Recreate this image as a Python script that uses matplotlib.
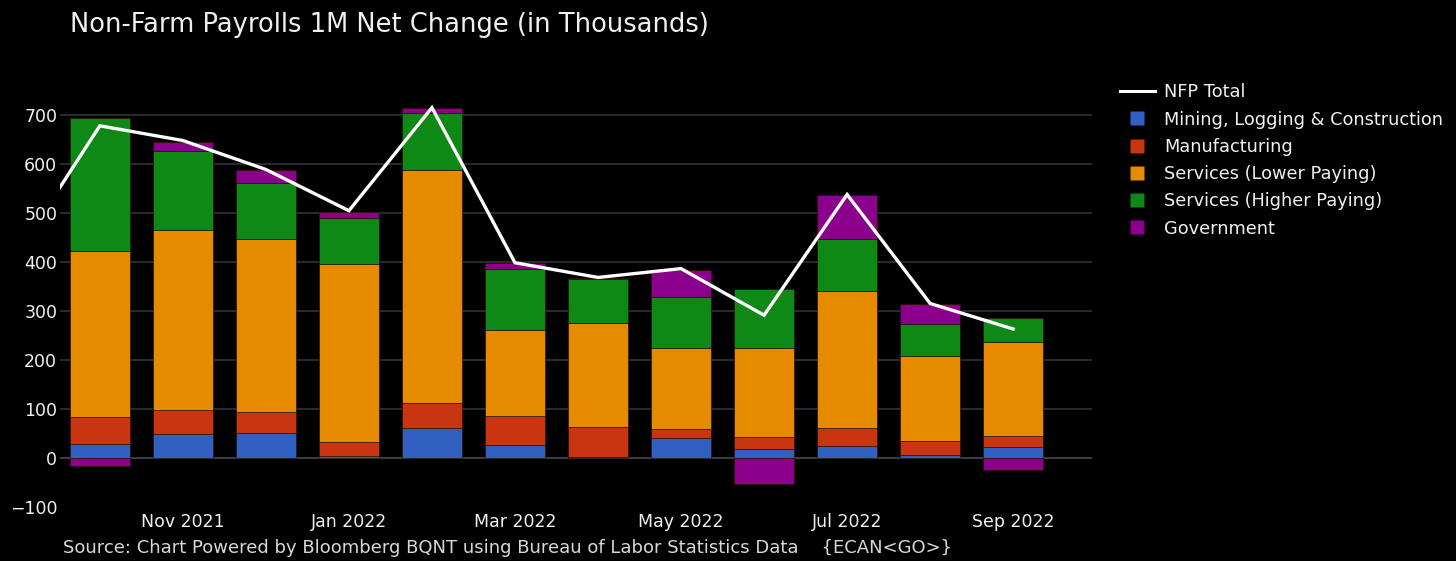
import numpy as np
import matplotlib
matplotlib.use("Agg")
from matplotlib import pyplot as plt
from matplotlib.lines import Line2D

# Oct 2021 .. Sep 2022, thousands of jobs
months   = ["Oct 2021", "Nov 2021", "Dec 2021", "Jan 2022", "Feb 2022", "Mar 2022",
            "Apr 2022", "May 2022", "Jun 2022", "Jul 2022", "Aug 2022", "Sep 2022"]
mining   = [29, 50, 52, 5, 62, 26, 2, 41, 18, 24, 7, 22]
manuf    = [54, 48, 41, 27, 51, 59, 61, 19, 24, 38, 28, 23]
svc_low  = [339, 366, 354, 363, 473, 176, 212, 164, 182, 278, 173, 191]
svc_high = [271, 161, 113, 95, 117, 124, 90, 105, 120, 107, 66, 50]
gov      = [-16, 20, 27, 12, 10, 13, 1, 55, -53, 88, 40, -24]
nfp      = [677, 647, 588, 504, 714, 398, 368, 386, 291, 537, 315, 263]
nfp_prev = 416   # Sep 2021, only the tail of the line is visible

tick_idx = [1, 3, 5, 7, 9, 11]

series = [
  ("Mining, Logging & Construction", mining, "#3160c2"),
  ("Manufacturing", manuf, "#c93511"),
  ("Services (Lower Paying)", svc_low, "#e68a00"),
  ("Services (Higher Paying)", svc_high, "#0f8916"),
  ("Government", gov, "#8a008c"),
]

bg = "black"
grid_c = "#33373f"
txt = "#f0f0f0"

fig = plt.figure(figsize=(14.56, 5.61), dpi=100, facecolor=bg)
ax = fig.add_axes([0.0412, 0.0873, 0.7088, 0.7523], facecolor=bg)

x = np.arange(len(months))
pos_bot = np.zeros(len(months))
neg_bot = np.zeros(len(months))
for name, vals, col in series:
  v = np.array(vals, dtype=float)
  bot = np.where(v >= 0, pos_bot, neg_bot)
  ax.bar(x, v, bottom=bot, width=0.73, color=col, edgecolor="#2a1400",
         linewidth=0.5, zorder=3)
  pos_bot += np.where(v >= 0, v, 0)
  neg_bot += np.where(v < 0, v, 0)

ax.plot(np.r_[-1, x], [nfp_prev] + nfp, color="white", lw=2.4, zorder=5,
        solid_joinstyle="miter")

ax.set_xlim(-0.48, 11.95)
ax.set_ylim(-110, 750)
ax.set_yticks(range(-100, 701, 100))
ax.set_yticklabels(["\u2212100"] + [str(v) for v in range(0, 701, 100)])
for yv in range(0, 701, 100):
  ax.axhline(yv, color=grid_c if yv else "#4a5059", lw=1.1, zorder=1)

ax.set_xticks(tick_idx)
ax.set_xticklabels([months[i] for i in tick_idx])
ax.tick_params(axis="both", length=0, colors=txt, labelsize=12.5)
ax.tick_params(axis="x", pad=1)
ax.tick_params(axis="y", pad=2)
for s in ax.spines.values():
  s.set_visible(False)

fig.text(0.048, 0.955, "Non-Farm Payrolls 1M Net Change (in Thousands)",
         color=txt, fontsize=18.5, va="center")
fig.text(0.043, 0.024,
         "Source: Chart Powered by Bloomberg BQNT using Bureau of Labor Statistics Data    {ECAN<GO>}",
         color="#d8d8d8", fontsize=13, va="center")

handles = [Line2D([0], [0], color="white", lw=2.2)]
labels = ["NFP Total"]
for name, vals, col in series:
  handles.append(Line2D([0], [0], linestyle="none", marker="s", markersize=10,
                        markerfacecolor=col, markeredgecolor="none"))
  labels.append(name)
leg = fig.legend(handles, labels, loc="upper left", bbox_to_anchor=(0.758, 0.88),
                 frameon=False, fontsize=12.8, labelcolor=txt, handlelength=2.0,
                 labelspacing=0.52, handletextpad=0.5)

fig.savefig("out.png", dpi=100, facecolor=bg)
